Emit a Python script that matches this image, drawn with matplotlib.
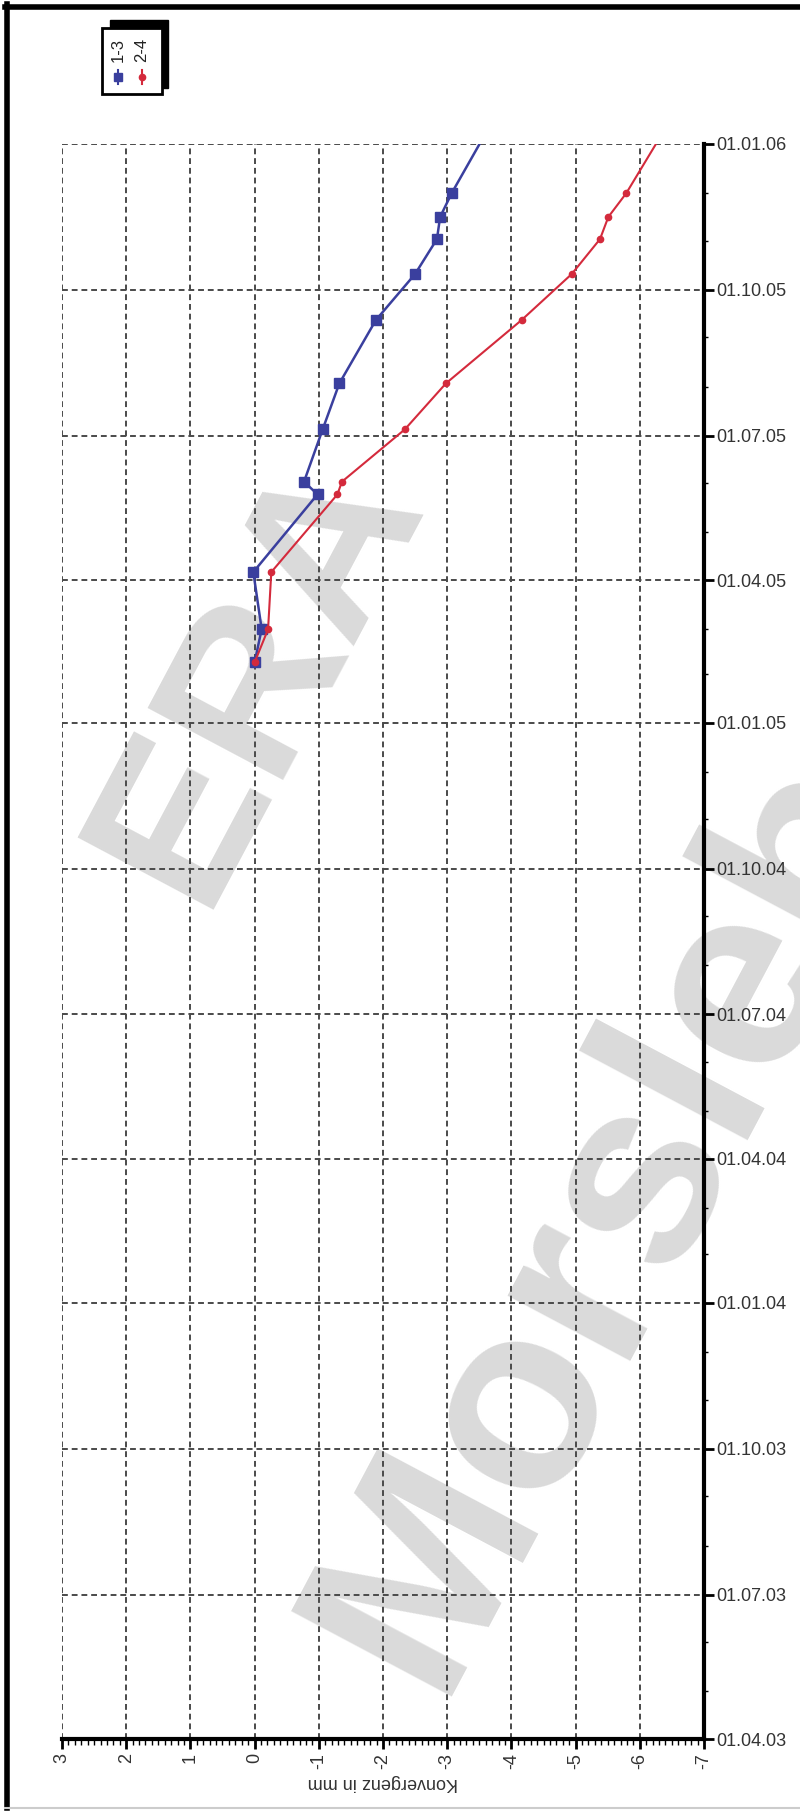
import matplotlib
matplotlib.use('Agg')
import matplotlib.pyplot as plt
import matplotlib.dates as mdates
from matplotlib.patches import Rectangle
from matplotlib.lines import Line2D
from matplotlib.ticker import MultipleLocator
import pandas as pd

plt.rcParams['font.family'] = ['Liberation Sans', 'DejaVu Sans']

# measurement dates (same for both lines)
dates = pd.to_datetime(['2005-02-08', '2005-03-01', '2005-04-06', '2005-05-25', '2005-06-02',
                        '2005-07-05', '2005-08-03', '2005-09-12', '2005-10-11', '2005-11-02',
                        '2005-11-16', '2005-12-01', '2006-01-15'])
conv_13 = [0.0, -0.11, 0.02, -0.98, -0.77, -1.06, -1.32, -1.89, -2.50, -2.84, -2.89, -3.07, -3.70]
conv_24 = [0.0, -0.21, -0.26, -1.29, -1.36, -2.34, -2.98, -4.16, -4.94, -5.38, -5.51, -5.79, -6.46]
series_names = ['1-3', '2-4']
x_ticks = list(range(3, -8, -1))
date_start, date_end = pd.Timestamp('2003-04-01'), pd.Timestamp('2006-01-01')

W, H = 800, 1811
fig = plt.figure(figsize=(W / 100, H / 100), dpi=100)
fig.patch.set_facecolor('white')


def fx(px):
    return px / W


def fy(py):
    return 1 - py / H


ax = fig.add_axes([fx(62), fy(1739), fx(704) - fx(62), fy(144) - fy(1739)])
ax.set_facecolor('none')

blue = '#3a3f9e'
red = '#d42a3c'
ax.plot(conv_13, dates, color=blue, lw=1.8, marker='s', ms=7, zorder=3)
ax.plot(conv_24, dates, color=red, lw=1.5, marker='o', ms=4.5, zorder=4)

ax.set_xlim(3, -7)
ax.set_ylim(date_start, date_end)
ax.set_xticks(x_ticks)
ax.set_xticklabels([str(v) for v in x_ticks], rotation=90, fontsize=13, color='#333333')
ax.xaxis.set_minor_locator(MultipleLocator(0.1))

ax.yaxis.tick_right()
ax.yaxis.set_major_locator(mdates.MonthLocator(bymonth=[1, 4, 7, 10]))
ax.yaxis.set_minor_locator(mdates.MonthLocator())
ax.yaxis.set_major_formatter(mdates.DateFormatter('%d.%m.%y'))
for t in ax.get_yticklabels():
    t.set_fontsize(13)
    t.set_color('#333333')

ax.tick_params(axis='y', which='major', length=7, width=2, pad=2, right=True, left=False)
ax.tick_params(axis='y', which='minor', length=3, width=1, right=True, left=False)
ax.tick_params(axis='x', which='major', length=7, width=2, pad=3)
ax.tick_params(axis='x', which='minor', length=4, width=1)

ax.grid(True, which='major', color='#4a4a4a', ls=(0, (3, 2)), lw=1.4)
ax.spines['top'].set_visible(False)
ax.spines['left'].set_visible(False)
ax.spines['right'].set_linewidth(3)
ax.spines['bottom'].set_linewidth(3)
ax.spines['right'].set_zorder(5)
ax.spines['bottom'].set_zorder(5)

fig.text(fx(383), fy(1783), 'Konvergenz in mm', rotation=180, ha='center', va='center',
         fontsize=13, color='#333333')

# watermark
fig.text(fx(258), fy(675), 'ERA', rotation=62, ha='center', va='center', rotation_mode='anchor',
         fontsize=160, fontweight='bold', color='#dadada', zorder=-1)
fig.text(fx(375), fy(1665), 'Morsleben', rotation=62, ha='left', va='center', rotation_mode='anchor',
         fontsize=190, fontweight='bold', color='#dadada', zorder=-1)

# legend box with shadow
fig.add_artist(Rectangle((fx(110), fy(88)), fx(168) - fx(110), fy(20) - fy(88),
                         transform=fig.transFigure, facecolor='black', edgecolor='black'))
fig.add_artist(Rectangle((fx(102), fy(94)), fx(162) - fx(102), fy(28) - fy(94),
                         transform=fig.transFigure, facecolor='white', edgecolor='black', lw=2))
for name, col, mk, ms, xc in [(series_names[0], blue, 's', 6, 118), (series_names[1], red, 'o', 4.5, 142)]:
    fig.add_artist(Line2D([fx(xc), fx(xc)], [fy(70), fy(84)], transform=fig.transFigure,
                          color=col, lw=1.5))
    fig.add_artist(Line2D([fx(xc)], [fy(77)], transform=fig.transFigure, color=col,
                          marker=mk, ms=ms))
    fig.text(fx(xc), fy(50), name, rotation=90, ha='center', va='center', fontsize=12,
             color='#222222')

# outer frame
fig.add_artist(Line2D([fx(7), fx(7)], [fy(4), fy(1808)], transform=fig.transFigure,
                      color='black', lw=4))
fig.add_artist(Line2D([fx(5), fx(800)], [fy(7), fy(7)], transform=fig.transFigure,
                      color='black', lw=4))
fig.add_artist(Line2D([fx(5), fx(800)], [fy(1808), fy(1808)], transform=fig.transFigure,
                      color='#cccccc', lw=1.5))

fig.savefig('out.png', dpi=100)
